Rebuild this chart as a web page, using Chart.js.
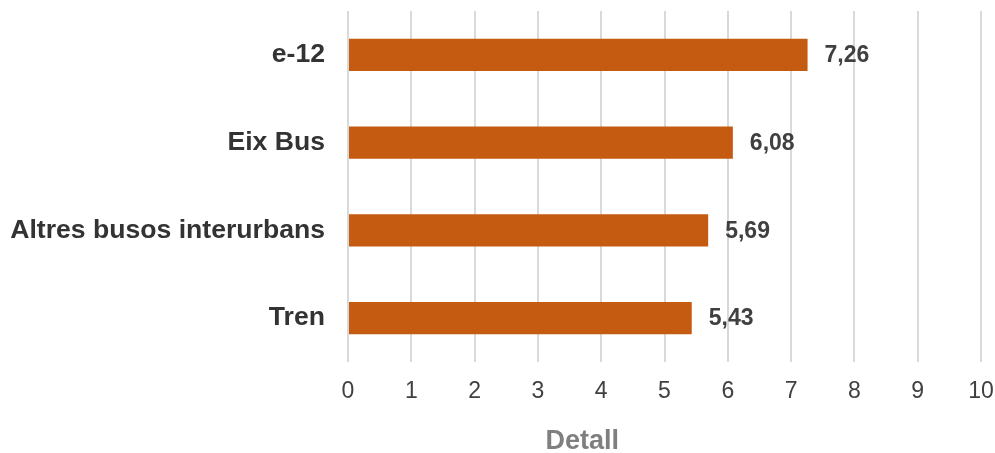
<!DOCTYPE html>
<html>
<head>
<meta charset="utf-8">
<script src="https://cdn.jsdelivr.net/npm/chart.js@4"></script>
<style>
  html, body { margin: 0; padding: 0; background: #fff; }
  #wrap { width: 995px; height: 453px; }
</style>
</head>
<body>
<div id="wrap"><canvas id="detallChart"></canvas></div>
<script>
// valoració per mode de transport
const categories = ['e-12', 'Eix Bus', 'Altres busos interurbans', 'Tren'];
const values = [7.26, 6.08, 5.69, 5.43];
const axisTitle = 'Detall';

const FONT = "'Liberation Sans', Arial, sans-serif";

// value labels at the end of each bar, plus the axis title under the ticks
const barLabels = {
  id: 'barLabels',
  afterDatasetsDraw(chart) {
    const ctx = chart.ctx;
    const meta = chart.getDatasetMeta(0);
    ctx.save();
    ctx.font = 'bold 23px ' + FONT;
    ctx.fillStyle = '#404040';
    ctx.textAlign = 'left';
    ctx.textBaseline = 'middle';
    meta.data.forEach((bar, i) => {
      const txt = values[i].toFixed(2).replace('.', ',');
      ctx.fillText(txt, bar.x + 17, bar.y + 1);
    });

    const area = chart.chartArea;
    ctx.font = 'bold 27px ' + FONT;
    ctx.fillStyle = '#7f7f7f';
    ctx.textAlign = 'center';
    ctx.fillText(axisTitle, area.left + (area.right - area.left) * 0.37, 442);
    ctx.restore();
  }
};

const detallChart = document.getElementById('detallChart');

var barChart = new Chart(detallChart, {
  type: 'bar',
  data: {
    labels: categories,
    datasets: [
      {
        data: values,
        backgroundColor: '#C55A11',
        categoryPercentage: 0.365,
        barPercentage: 1
      }
    ]
  },
  options: {
    indexAxis: 'y',
    responsive: true,
    maintainAspectRatio: false,
    animation: false,
    layout: {
      padding: { top: 11, right: 14, left: 0, bottom: 0 }
    },
    plugins: {
      legend: { display: false },
      tooltip: { enabled: false }
    },
    scales: {
      x: {
        min: 0,
        max: 10,
        ticks: {
          stepSize: 1,
          padding: 16,
          color: '#404040',
          font: { family: FONT, size: 23 }
        },
        grid: {
          color: '#d9d9d9',
          lineWidth: 2,
          drawTicks: false
        },
        border: { display: false },
        afterFit(scale) {
          scale.height = 91;
          scale.paddingLeft = 0;
          scale.paddingRight = 0;
        }
      },
      y: {
        ticks: {
          padding: 23,
          color: '#333333',
          font: { family: FONT, size: 26.6, weight: 'bold' }
        },
        grid: { display: false, drawTicks: false },
        border: { display: false },
        afterFit(scale) {
          scale.width = 348;
          scale.paddingTop = 0;
          scale.paddingBottom = 0;
        }
      }
    }
  },
  plugins: [barLabels]
});
</script>
</body>
</html>
